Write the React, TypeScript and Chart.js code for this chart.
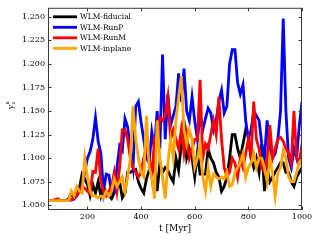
import { useEffect, useRef } from "react";
import { Chart, registerables } from "chart.js";

Chart.register(...registerables);

const times = [
  50, 60, 70, 80, 90, 100, 110, 120, 130, 140, 150, 160, 170, 180, 190, 200,
  210, 220, 230, 240, 250, 260, 270, 280, 290, 300, 310, 320, 330, 340, 350,
  360, 370, 380, 390, 400, 410, 420, 430, 440, 450, 460, 470, 480, 490, 500,
  510, 520, 530, 540, 550, 560, 570, 580, 590, 600, 610, 620, 630, 640, 650,
  660, 670, 680, 690, 700, 710, 720, 730, 740, 750, 760, 770, 780, 790, 800,
  810, 820, 830, 840, 850, 860, 870, 880, 890, 900, 910, 920, 930, 940, 950,
  960, 970, 980, 990, 1000,
];

const fiducial = [
  1.055, 1.055, 1.055, 1.055, 1.055, 1.055, 1.055, 1.055, 1.057, 1.063, 1.057,
  1.06, 1.068, 1.083, 1.078, 1.072, 1.06, 1.072, 1.063, 1.075, 1.06, 1.07,
  1.063, 1.06, 1.057, 1.063, 1.07, 1.075, 1.058, 1.063, 1.085, 1.085, 1.087,
  1.088, 1.075, 1.068, 1.063, 1.078, 1.087, 1.083, 1.095, 1.065, 1.095, 1.085,
  1.09, 1.087, 1.08, 1.075, 1.1, 1.087, 1.115, 1.14, 1.1, 1.11, 1.1, 1.08,
  1.105, 1.083, 1.083, 1.083, 1.11, 1.1, 1.095, 1.085, 1.08, 1.065, 1.07, 1.08,
  1.1, 1.125, 1.125, 1.11, 1.1, 1.115, 1.13, 1.125, 1.1, 1.09, 1.1, 1.085,
  1.115, 1.065, 1.09, 1.075, 1.08, 1.085, 1.09, 1.095, 1.095, 1.085, 1.085,
  1.075, 1.07, 1.08, 1.085, 1.09,
];

const runP = [
  1.055, 1.055, 1.055, 1.055, 1.055, 1.055, 1.055, 1.055, 1.055, 1.056, 1.057,
  1.06, 1.065, 1.072, 1.085, 1.1, 1.107, 1.12, 1.143, 1.118, 1.105, 1.065,
  1.083, 1.082, 1.063, 1.065, 1.09, 1.113, 1.108, 1.142, 1.133, 1.108, 1.09,
  1.155, 1.16, 1.138, 1.12, 1.1, 1.095, 1.128, 1.11, 1.15, 1.11, 1.21, 1.12,
  1.168, 1.135, 1.145, 1.155, 1.19, 1.16, 1.195, 1.15, 1.14, 1.165, 1.14, 1.12,
  1.145, 1.13, 1.142, 1.153, 1.148, 1.13, 1.14, 1.16, 1.172, 1.148, 1.155, 1.2,
  1.215, 1.215, 1.18, 1.168, 1.178, 1.14, 1.12, 1.13, 1.15, 1.145, 1.14, 1.115,
  1.1, 1.14, 1.11, 1.1, 1.105, 1.12, 1.15, 1.248, 1.15, 1.1, 1.09, 1.11, 1.1,
  1.135, 1.16,
];

const runM = [
  1.055, 1.055, 1.055, 1.056, 1.057, 1.055, 1.055, 1.055, 1.055, 1.056, 1.058,
  1.06, 1.065, 1.07, 1.068, 1.065, 1.062, 1.086, 1.085, 1.11, 1.075, 1.065,
  1.06, 1.065, 1.07, 1.085, 1.065, 1.09, 1.13, 1.13, 1.12, 1.1, 1.09, 1.085,
  1.08, 1.085, 1.1, 1.11, 1.1, 1.08, 1.12, 1.115, 1.143, 1.14, 1.145, 1.165,
  1.12, 1.13, 1.12, 1.11, 1.13, 1.105, 1.125, 1.1, 1.11, 1.12, 1.12, 1.183, 1.1,
  1.115, 1.11, 1.125, 1.14, 1.125, 1.165, 1.12, 1.09, 1.08, 1.085, 1.1, 1.095,
  1.08, 1.1, 1.09, 1.105, 1.12, 1.1, 1.16, 1.12, 1.11, 1.09, 1.085, 1.1, 1.135,
  1.1, 1.11, 1.12, 1.122, 1.118, 1.11, 1.105, 1.095, 1.15, 1.1, 1.095, 1.115,
];

const inplane = [
  1.055, 1.055, 1.055, 1.055, 1.055, 1.055, 1.055, 1.055, 1.055, 1.065, 1.06,
  1.07, 1.065, 1.063, 1.1, 1.08, 1.065, 1.06, 1.06, 1.058, 1.06, 1.058, 1.065,
  1.06, 1.065, 1.078, 1.07, 1.075, 1.08, 1.065, 1.08, 1.1, 1.155, 1.12, 1.1,
  1.085, 1.08, 1.145, 1.09, 1.08, 1.057, 1.14, 1.1, 1.08, 1.057, 1.095, 1.12,
  1.1, 1.14, 1.165, 1.187, 1.13, 1.115, 1.13, 1.12, 1.09, 1.1, 1.115, 1.08,
  1.065, 1.09, 1.07, 1.083, 1.08, 1.078, 1.08, 1.078, 1.085, 1.07, 1.072, 1.085,
  1.09, 1.095, 1.105, 1.08, 1.09, 1.095, 1.105, 1.09, 1.1, 1.1, 1.09, 1.075,
  1.1, 1.085, 1.06, 1.085, 1.09, 1.108, 1.1, 1.08, 1.075, 1.075, 1.085, 1.095,
  1.1,
];

const seriesNames = ["WLM-fiducial", "WLM-RunP", "WLM-RunM", "WLM-inplane"];
const seriesColors = ["#000000", "#0000ff", "#ff0000", "#ffa500"];
const xTicks = [200, 400, 600, 800, 1000];
const yTicks = [1.05, 1.075, 1.1, 1.125, 1.15, 1.175, 1.2, 1.225, 1.25];
const xTitle = "t [Myr]";

const FONT = "'DejaVu Serif', serif";

const framePlugin = {
  id: "frameLegend",
  afterDraw(chart: any) {
    const { ctx, chartArea } = chart;
    const { left, right, top, bottom } = chartArea;
    const xs = chart.scales.x;
    const ys = chart.scales.y;
    ctx.save();
    ctx.strokeStyle = "#3a3a3a";
    ctx.lineWidth = 1;
    ctx.strokeRect(left + 0.5, top + 0.5, right - left - 1, bottom - top - 1);
    ctx.beginPath();
    const tl = 3.5;
    for (const v of xTicks) {
      const px = Math.round(xs.getPixelForValue(v)) + 0.5;
      ctx.moveTo(px, bottom);
      ctx.lineTo(px, bottom - tl);
      ctx.moveTo(px, top);
      ctx.lineTo(px, top + tl);
    }
    for (const v of yTicks) {
      const py = Math.round(ys.getPixelForValue(v)) + 0.5;
      ctx.moveTo(left, py);
      ctx.lineTo(left + tl, py);
      ctx.moveTo(right, py);
      ctx.lineTo(right - tl, py);
    }
    ctx.stroke();

    // legend
    const ds = chart.data.datasets;
    ctx.font = `7.5px ${FONT}`;
    ctx.textBaseline = "middle";
    ctx.textAlign = "left";
    for (let i = 0; i < ds.length; i++) {
      const y = top + 9 + i * 10.5;
      ctx.strokeStyle = ds[i].borderColor;
      ctx.lineWidth = 2.8;
      ctx.beginPath();
      ctx.moveTo(left + 5, y);
      ctx.lineTo(left + 29, y);
      ctx.stroke();
      ctx.fillStyle = "#000";
      ctx.fillText(ds[i].label, left + 32, y + 0.5);
    }

    // y axis title
    ctx.translate(11, 107);
    ctx.rotate(-Math.PI / 2);
    ctx.fillStyle = "#000";
    ctx.textAlign = "center";
    ctx.font = `8px ${FONT}`;
    ctx.fillText("y", 0, 0);
    ctx.font = `5px ${FONT}`;
    ctx.textAlign = "left";
    ctx.fillText("n", 2.5, -3);
    ctx.fillText("z", 2.5, 3);
    ctx.restore();
  },
};

export default function App() {
  const ref = useRef<HTMLCanvasElement | null>(null);
  useEffect(() => {
    if (!ref.current) return;
    const series = [fiducial, runP, runM, inplane];
    const chart = new Chart(ref.current, {
      type: "line",
      data: {
        datasets: series.map((s, i) => ({
          label: seriesNames[i],
          data: s.map((v, j) => ({ x: times[j], y: v })),
          borderColor: seriesColors[i],
          backgroundColor: seriesColors[i],
          borderWidth: 2.8,
          pointRadius: 0,
          tension: 0,
          fill: false,
          order: series.length - i,
        })),
      },
      options: {
        animation: false,
        responsive: true,
        maintainAspectRatio: false,
        layout: { padding: { top: 7, right: 18, left: 0, bottom: 0 } },
        plugins: { legend: { display: false }, tooltip: { enabled: false } },
        scales: {
          x: {
            type: "linear",
            min: 53,
            max: 1000,
            grid: { display: false, drawTicks: false },
            border: { display: false },
            afterBuildTicks: (s: any) => {
              s.ticks = xTicks.map((v) => ({ value: v }));
            },
            afterFit: (s: any) => {
              s.height = 30;
            },
            ticks: {
              color: "#000",
              padding: 2,
              maxRotation: 0,
              autoSkip: false,
              font: { family: FONT, size: 8 },
              callback: (v: any) => String(v),
            },
            title: {
              display: true,
              text: xTitle,
              color: "#000",
              font: { family: FONT, size: 9 },
              padding: { top: 0, bottom: 6 },
            },
          },
          y: {
            type: "linear",
            min: 1.045,
            max: 1.2595,
            grid: { display: false, drawTicks: false },
            border: { display: false },
            afterBuildTicks: (s: any) => {
              s.ticks = yTicks.map((v) => ({ value: v }));
            },
            afterFit: (s: any) => {
              s.width = 48;
            },
            ticks: {
              color: "#000",
              padding: 3,
              autoSkip: false,
              font: { family: FONT, size: 8 },
              callback: (v: any) => Number(v).toFixed(3),
            },
          },
        },
      },
      plugins: [framePlugin],
    });
    return () => chart.destroy();
  }, []);
  return (
    <div style={{ position: "absolute", left: 0, top: 0, width: 320, height: 240, background: "#fff" }}>
      <canvas ref={ref} width={320} height={240} />
    </div>
  );
}
